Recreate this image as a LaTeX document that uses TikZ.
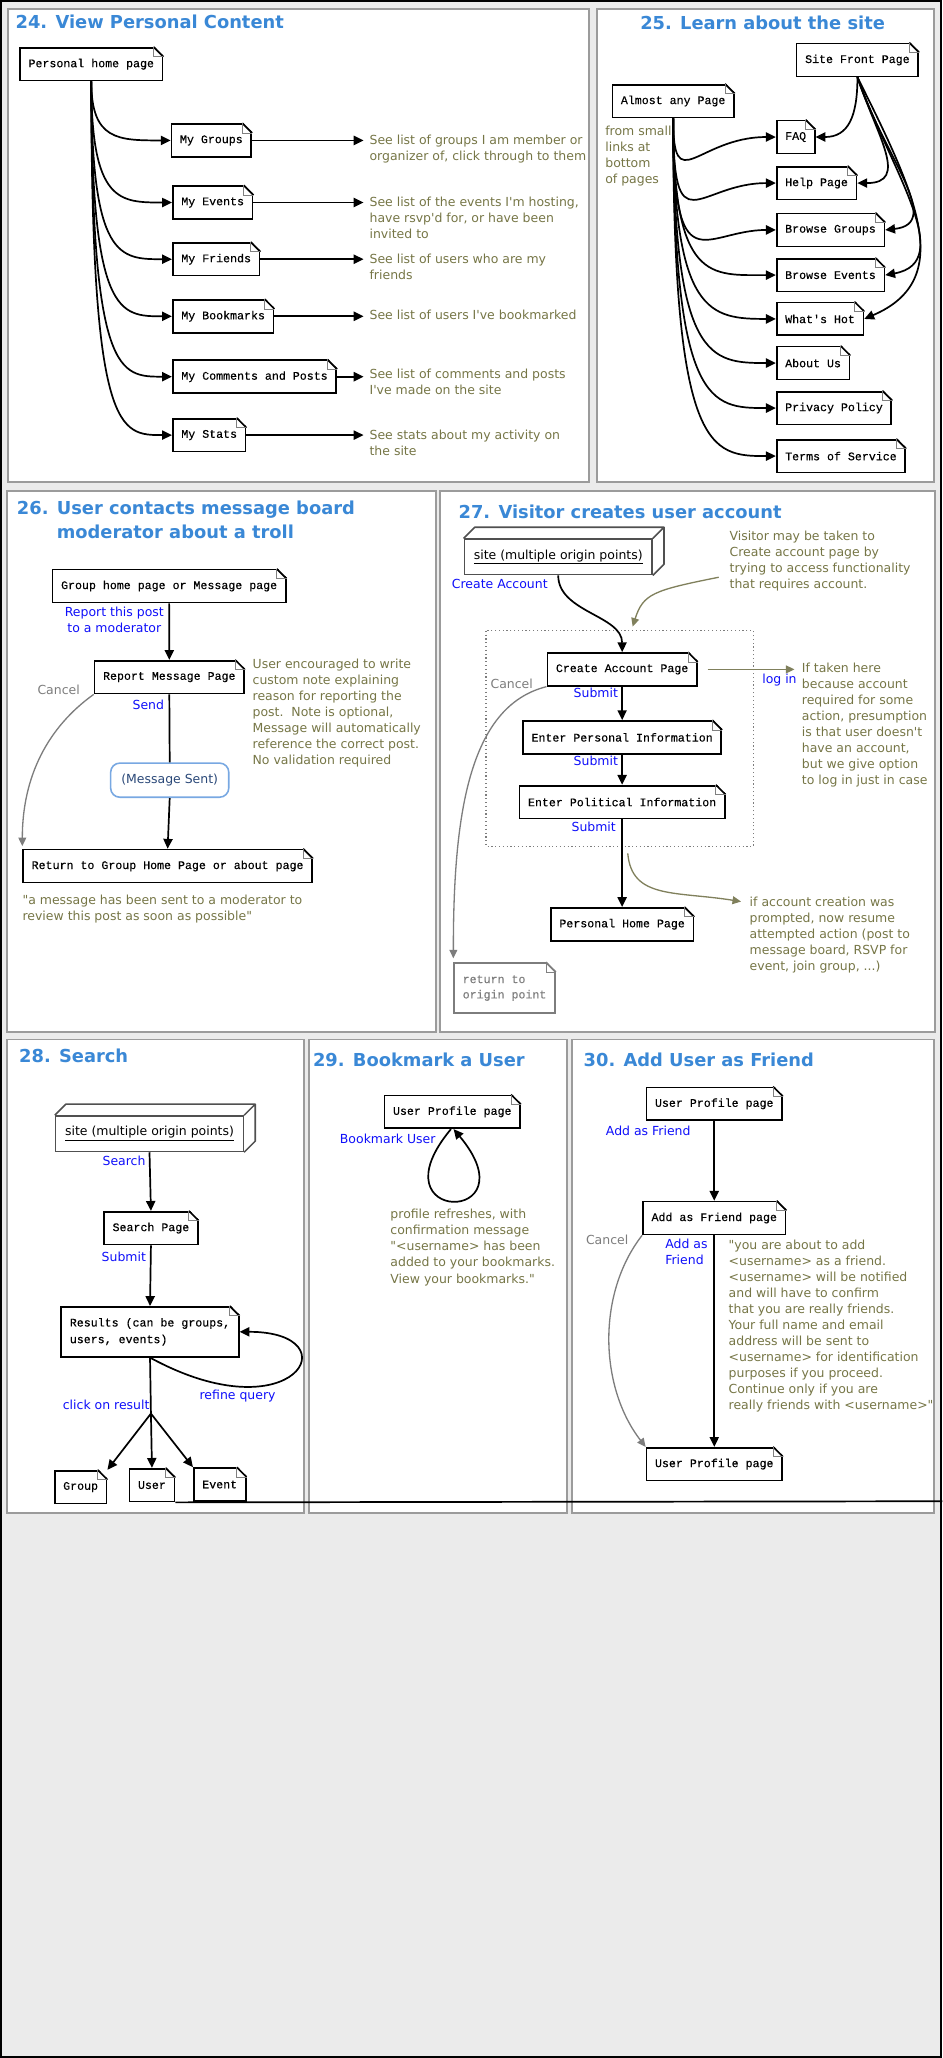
\documentclass[tikz,border=0pt]{standalone}
\usepackage{fontspec}
\usetikzlibrary{arrows.meta}

\newfontfamily\notefont{DejaVu Sans}
\newfontfamily\pagefont[FakeBold=0.3]{Liberation Mono}

\definecolor{bggray}{RGB}{235,235,235}
\definecolor{panelgray}{RGB}{155,155,155}
\definecolor{titleblue}{RGB}{58,136,214}
\definecolor{noteolive}{RGB}{118,118,70}
\definecolor{arrowolive}{RGB}{128,128,92}
\definecolor{linkblue}{RGB}{15,15,250}
\definecolor{cancelgray}{RGB}{125,125,125}
\definecolor{cubegray}{RGB}{80,80,80}
\definecolor{sentblue}{RGB}{120,168,226}
\definecolor{sentnavy}{RGB}{42,72,120}

% folded corner of a page box
\newcommand{\pagecorner}[2][black]{%
  \fill[white] ([xshift=-7.5pt,yshift=1pt]#2.north east) -- ([xshift=1pt,yshift=1pt]#2.north east)
    -- ([xshift=1pt,yshift=-7.5pt]#2.north east) -- cycle;
  \draw[#1, line width=1.3pt] ([xshift=-7.5pt]#2.north east) -- ([yshift=-7.5pt]#2.north east);
  \draw[gray, line width=0.6pt] ([xshift=-7.5pt]#2.north east) |- ([yshift=-7.5pt]#2.north east);
}
% top and side of a site box
\newcommand{\cubefaces}[1]{%
  \draw[cubegray, line width=1.2pt, line join=round] (#1.north west) -- ++(8.5,-8.5)
    -- ([shift={(8.5,-8.5)}]#1.north east) -- ([shift={(8.5,-8.5)}]#1.south east) -- (#1.south east)
    (#1.north east) -- ([shift={(8.5,-8.5)}]#1.north east);
}

\begin{document}
\begin{tikzpicture}[x=1pt,y=-1pt]
  \tikzstyle{every node}+=[inner sep=0pt]
  \tikzstyle{panelbox}=[draw=panelgray, line width=1.5pt, fill=white]
  \tikzstyle{titletext}=[font=\notefont\bfseries\fontsize{13.6pt}{18pt}\selectfont, text=titleblue, anchor=base west, align=left]
  \tikzstyle{pagebox}=[draw=black, line width=1.3pt, fill=white, font=\pagefont\fontsize{8.85pt}{12.7pt}\selectfont, inner xsep=6.5pt, minimum height=25pt, anchor=west, align=left]
  \tikzstyle{notetext}=[font=\notefont\fontsize{9.5pt}{12.2pt}\selectfont, text=noteolive, align=left, anchor=north west]
  \tikzstyle{linktext}=[font=\notefont\fontsize{9.5pt}{12.2pt}\selectfont, text=linkblue]
  \tikzstyle{canceltext}=[font=\notefont\fontsize{9.5pt}{12.2pt}\selectfont, text=cancelgray, anchor=base west]
  \tikzstyle{cubebox}=[draw=cubegray, line width=1.2pt, fill=white, font=\notefont\fontsize{9.5pt}{12.2pt}\selectfont, minimum width=143pt, minimum height=27pt]
  \tikzstyle{sentbox}=[draw=sentblue, line width=1.2pt, rounded corners=7pt, fill=white, text=sentnavy, font=\notefont\fontsize{9.5pt}{12.2pt}\selectfont, minimum width=90pt, minimum height=26pt]
  \tikzstyle{flowarrow}=[line width=1.3pt, -{Triangle[length=7.5pt,width=7pt]}]
  \tikzstyle{cancelarrow}=[draw=cancelgray, line width=1pt, -{Triangle[length=6.5pt,width=6pt]}]
  \tikzstyle{notearrow}=[draw=arrowolive, line width=1pt, -{Triangle[length=6.5pt,width=6pt]}]

  \useasboundingbox (0,0) rectangle (718,1568);
  \fill[bggray] (0,0) rectangle (718,1568);
  \draw[line width=1.5pt] (0.75,0.75) rectangle (717.25,1567.25);
  \draw[panelbox] (5.8,6.9) rectangle (449,367);
  \draw[panelbox] (454.7,6.9) rectangle (711.7,367);
  \draw[panelbox] (5.6,374) rectangle (332,786);
  \draw[panelbox] (335.2,374) rectangle (712.4,786);
  \draw[panelbox] (5.5,792) rectangle (231.7,1152.5);
  \draw[panelbox] (235.6,792) rectangle (431.7,1152.5);
  \draw[panelbox] (435.5,792) rectangle (711.7,1152.5);
  \draw[cancelgray, dotted, line width=0.9pt] (370.3,480.6) rectangle (574,644.7);

  % 24
  \node[titletext] (t24) at (11.7,21.5) {24. View Personal Content};
  \node[pagebox] (phome) at (14.6,48.9) {Personal home page};
  \node[pagebox] (grp) at (130,107) {My Groups};
  \node[pagebox] (evt) at (131,154.3) {My Events};
  \node[pagebox] (frd) at (131,197.5) {My Friends};
  \node[pagebox] (bkm) at (131,241) {My Bookmarks};
  \node[pagebox] (cmt) at (131,287) {My Comments and Posts};
  \node[pagebox] (sts) at (131,331.5) {My Stats};
  \node[notetext] (ngrp) at (281.4,102.6) {See list of groups I am member or\\organizer of, click through to them};
  \node[notetext] (nevt) at (281.4,149.7) {See list of the events I'm hosting,\\have rsvp'd for, or have been\\invited to};
  \node[notetext] (nfrd) at (281.4,193) {See list of users who are my\\friends};
  \node[notetext] (nbkm) at (281.4,235.7) {See list of users I've bookmarked};
  \node[notetext] (ncmt) at (281.4,280.9) {See list of comments and posts\\I've made on the site};
  \node[notetext] (nsts) at (281.4,327.4) {See stats about my activity on\\the site};

  % 25
  \node[titletext, anchor=base] (t25) at (581,22.8) {25. Learn about the site};
  \node[pagebox] (sfp) at (606.3,45.7) {Site Front Page};
  \node[pagebox] (amp) at (465.9,77) {Almost any Page};
  \node[notetext] (nsmall) at (461,95.7) {from small\\links at\\bottom\\of pages};
  \node[pagebox] (faq) at (591.1,104.4) {FAQ};
  \node[pagebox] (hlp) at (591.1,139.5) {Help Page};
  \node[pagebox] (bgr) at (591.1,175.2) {Browse Groups};
  \node[pagebox] (bev) at (591.1,209.6) {Browse Events};
  \node[pagebox] (hot) at (591.1,243) {What's Hot};
  \node[pagebox] (abt) at (591.1,276.6) {About Us};
  \node[pagebox] (prv) at (591.1,310.9) {Privacy Policy};
  \node[pagebox] (tos) at (591.1,347.5) {Terms of Service};

  % 26
  \node[titletext, anchor=north west] (t26) at (12.7,381.7) {26. User contacts message board\\\hphantom{26. }moderator about a troll};
  \node[pagebox] (gh) at (39.4,446.5) {Group home page or Message page};
  \node[linktext, anchor=north east, align=center] (lrep) at (125,462.6) {Report this post\\to a moderator};
  \node[pagebox] (rmp) at (71.4,515.9) {Report Message Page};
  \node[canceltext] (lcan26) at (28.4,528.9) {Cancel};
  \node[linktext, anchor=base east] (lsend) at (125.2,540.4) {Send};
  \node[notetext] (n26) at (192.3,501.9) {User encouraged to write\\custom note explaining\\reason for reporting the\\post.\ \ Note is optional,\\Message will automatically\\reference the correct post.\\No validation required};
  \node[sentbox] (msent) at (129.3,594.4) {(Message Sent)};
  \node[pagebox] (ret) at (17,659.8) {Return to Group Home Page or about page};
  \node[notetext] (q26) at (17,681.7) {"a message has been sent to a moderator to\\review this post as soon as possible"};

  % 27
  \node[titletext] (t27) at (349.2,394.7) {27. Visitor creates user account};
  \node[cubebox] (site1) at (425.3,424.3) {\underline{site (multiple origin points)}};
  \node[linktext, anchor=base west] (lcreate) at (344.1,448.1) {Create Account};
  \node[notetext] (n27a) at (555.7,404.2) {Visitor may be taken to\\Create account page by\\trying to access functionality\\that requires account.};
  \node[pagebox, anchor=center] (cap) at (474,510) {Create Account Page};
  \node[canceltext] (lcan27) at (373.6,524.3) {Cancel};
  \node[linktext, anchor=base west] (llogin) at (580.6,520.8) {log in};
  \node[notetext] (n27b) at (610.8,504.6) {If taken here\\because account\\required for some\\action, presumption\\is that user doesn't\\have an account,\\but we give option\\to log in just in case};
  \node[linktext, anchor=base east] (lsub1) at (471,531.6) {Submit};
  \node[pagebox, anchor=center] (epi) at (474,561.8) {Enter Personal Information};
  \node[linktext, anchor=base east] (lsub2) at (471,583.4) {Submit};
  \node[pagebox, anchor=center] (epol) at (474,611.1) {Enter Political Information};
  \node[linktext, anchor=base east] (lsub3) at (469.4,633.7) {Submit};
  \node[pagebox, anchor=center] (php) at (474,704.2) {Personal Home Page};
  \node[notetext] (n27c) at (571,683.1) {if account creation was\\prompted, now resume\\attempted action (post to\\message board, RSVP for\\event, join group, ...)};
  \node[pagebox, draw=cancelgray, text=cancelgray, minimum height=38pt, font=\pagefont\fontsize{8.85pt}{11.7pt}\selectfont] (ret27) at (345.4,752.8) {return to\\origin point};
  \coordinate (pa1) at (547.6,439.8);
  \coordinate (pa2) at (482,477.4);
  \coordinate (pc1) at (478.3,650.2);
  \coordinate (pc2) at (564.6,686.9);

  % 28
  \node[titletext] (t28) at (14.4,809.7) {28. Search};
  \node[cubebox] (site2) at (113.9,863.8) {\underline{site (multiple origin points)}};
  \node[linktext, anchor=base east] (lsearch) at (111,888.3) {Search};
  \node[pagebox, anchor=center] (sp) at (115,935.7) {Search Page};
  \node[linktext, anchor=base east] (lsub28) at (111.4,961) {Submit};
  \node[pagebox, anchor=center, minimum height=38pt] (res) at (114.3,1014.7) {Results (can be groups,\\users, events)};
  \node[linktext, anchor=base west] (lrefine) at (151.9,1066.1) {refine query};
  \node[linktext, anchor=base west] (lclick) at (47.7,1073.8) {click on result};
  \coordinate (br) at (115,1077);
  \node[pagebox] (grpn) at (41,1133) {Group};
  \node[pagebox] (usr) at (98,1131.5) {User};
  \node[pagebox] (evtn) at (147,1131) {Event};
  \coordinate (stray) at (718,1143.8);

  % 29
  \node[titletext] (t29) at (238.3,812.8) {29. Bookmark a User};
  \node[pagebox, anchor=center] (upp) at (344.6,847.1) {User Profile page};
  \node[linktext, anchor=base east] (lbook) at (332,871.3) {Bookmark User};
  \node[notetext] (n29) at (297.3,921.3) {profile refreshes, with\\confirmation message\\"<username> has been\\added to your bookmarks.\\View your bookmarks."};

  % 30
  \node[titletext] (t30) at (444.5,812.2) {30. Add User as Friend};
  \node[pagebox, anchor=center] (upa) at (544.2,841) {User Profile page};
  \node[linktext, anchor=base west] (ladd1) at (461.5,865.5) {Add as Friend};
  \node[pagebox, anchor=center] (afp) at (544.2,928) {Add as Friend page};
  \node[canceltext] (lcan30) at (446.3,948) {Cancel};
  \node[linktext, anchor=north west, align=left] (ladd2) at (506.7,943.8) {Add as\\Friend};
  \node[notetext] (n30) at (555,944.6) {"you are about to add\\<username> as a friend.\\<username> will be notified\\and will have to confirm\\that you are really friends.\\Your full name and email\\address will be sent to\\<username> for identification\\purposes if you proceed.\\Continue only if you are\\really friends with <username>"};
  \node[pagebox, anchor=center] (upb) at (544.2,1115.5) {User Profile page};

  % corners and box tops
  \foreach \n in {phome,grp,evt,frd,bkm,cmt,sts,sfp,amp,faq,hlp,bgr,bev,hot,abt,prv,tos,gh,rmp,ret,cap,epi,epol,php,sp,res,grpn,usr,evtn,upp,upa,afp,upb} {\pagecorner{\n}}
  \pagecorner[cancelgray]{ret27}
  \cubefaces{site1}
  \cubefaces{site2}

  % 24 links
  \draw[flowarrow] (phome.south) .. controls (phome.south |- grp.west) and ([xshift=-40pt]grp.west) .. (grp.west);
  \draw[flowarrow] (phome.south) .. controls (phome.south |- evt.west) and ([xshift=-40pt]evt.west) .. (evt.west);
  \draw[flowarrow] (phome.south) .. controls (phome.south |- frd.west) and ([xshift=-40pt]frd.west) .. (frd.west);
  \draw[flowarrow] (phome.south) .. controls (phome.south |- bkm.west) and ([xshift=-40pt]bkm.west) .. (bkm.west);
  \draw[flowarrow] (phome.south) .. controls (phome.south |- cmt.west) and ([xshift=-40pt]cmt.west) .. (cmt.west);
  \draw[flowarrow] (phome.south) .. controls (phome.south |- sts.west) and ([xshift=-40pt]sts.west) .. (sts.west);
  \draw[flowarrow, shorten >=4.4pt] (grp.east) -- (grp.east -| ngrp.west);
  \draw[flowarrow, shorten >=4.4pt] (evt.east) -- (evt.east -| nevt.west);
  \draw[flowarrow, shorten >=4.4pt] (frd.east) -- (frd.east -| nfrd.west);
  \draw[flowarrow, shorten >=4.4pt] (bkm.east) -- (bkm.east -| nbkm.west);
  \draw[flowarrow, shorten >=4.4pt] (cmt.east) -- (cmt.east -| ncmt.west);
  \draw[flowarrow, shorten >=4.4pt] (sts.east) -- (sts.east -| nsts.west);

  % 25 links
  \draw[flowarrow] (amp.south) .. controls +(0,62) and +(-60,0) .. (faq.west);
  \draw[flowarrow] (amp.south) .. controls +(0,100) and +(-60,0) .. (hlp.west);
  \draw[flowarrow] (amp.south) .. controls +(0,130) and +(-55,0) .. (bgr.west);
  \draw[flowarrow] (amp.south) .. controls +(0,125) and +(-50,0) .. (bev.west);
  \draw[flowarrow] (amp.south) .. controls +(0,150) and +(-50,0) .. (hot.west);
  \draw[flowarrow] (amp.south) .. controls +(0,185) and +(-50,0) .. (abt.west);
  \draw[flowarrow] (amp.south) .. controls +(0,220) and +(-50,0) .. (prv.west);
  \draw[flowarrow] (amp.south) .. controls +(0,255) and +(-50,0) .. (tos.west);
  \draw[flowarrow] (sfp.south) .. controls +(0,30) and +(25,0) .. (faq.east);
  \draw[flowarrow] (sfp.south) .. controls +(15,45) and +(40,0) .. (hlp.east);
  \draw[flowarrow] (sfp.south) .. controls +(20,60) and +(45,-5) .. (bgr.east);
  \draw[flowarrow] (sfp.south) .. controls +(25,70) and +(55,-10) .. (bev.east);
  \draw[flowarrow] (sfp.south) .. controls +(45,90) and +(70,-30) .. (hot.east);

  % 26 links
  \draw[flowarrow] (gh.south) -- (rmp.north);
  \draw[line width=1.3pt] (rmp.south) -- (msent.north);
  \draw[flowarrow] (msent.south) -- (ret.north);
  \draw[cancelarrow, shorten >=2pt] (rmp.south west) .. controls +(-35,25) and +(0,-55) .. (ret.north west);

  % 27 links
  \draw[flowarrow] (site1.south) .. controls +(0,28) and +(0,-28) .. (cap.north);
  \draw[notearrow] (pa1) .. controls +(-50,10) and +(8,-25) .. (pa2);
  \draw[notearrow, shorten >=5.5pt] ([xshift=7.6pt]cap.east) -- (cap.east -| n27b.west);
  \draw[flowarrow] (cap.south) -- (epi.north);
  \draw[flowarrow] (epi.south) -- (epol.north);
  \draw[flowarrow] (epol.south) -- (php.north);
  \draw[notearrow] (pc1) .. controls +(3,35) and +(-50,-8) .. (pc2);
  \draw[cancelarrow, shorten >=3pt] (cap.south west) .. controls +(-60,15) and +(0,-110) .. (ret27.north west);

  % 28 links
  \draw[flowarrow] (site2.south) -- (sp.north);
  \draw[flowarrow] (sp.south) -- (res.north);
  \draw[flowarrow] (res.south) .. controls +(110,60) and +(87,0) .. (res.east);
  \draw[line width=1.3pt] (res.south) -- (br);
  \draw[flowarrow] (br) -- (grpn.north east);
  \draw[flowarrow] (br) -- (usr.north);
  \draw[flowarrow] (br) -- (evtn.north west);
  \draw[line width=1.3pt] (usr.south east) -- (stray);

  % 29 links
  \draw[flowarrow] ([xshift=-1pt]upp.south) .. controls +(-61,73) and +(61,73) .. ([xshift=1pt]upp.south);

  % 30 links
  \draw[flowarrow] (upa.south) -- (afp.north);
  \draw[flowarrow] (afp.south) -- (upb.north);
  \draw[cancelarrow] (afp.south west) .. controls +(-35,45) and +(-35,-45) .. (upb.north west);
\end{tikzpicture}
\end{document}
